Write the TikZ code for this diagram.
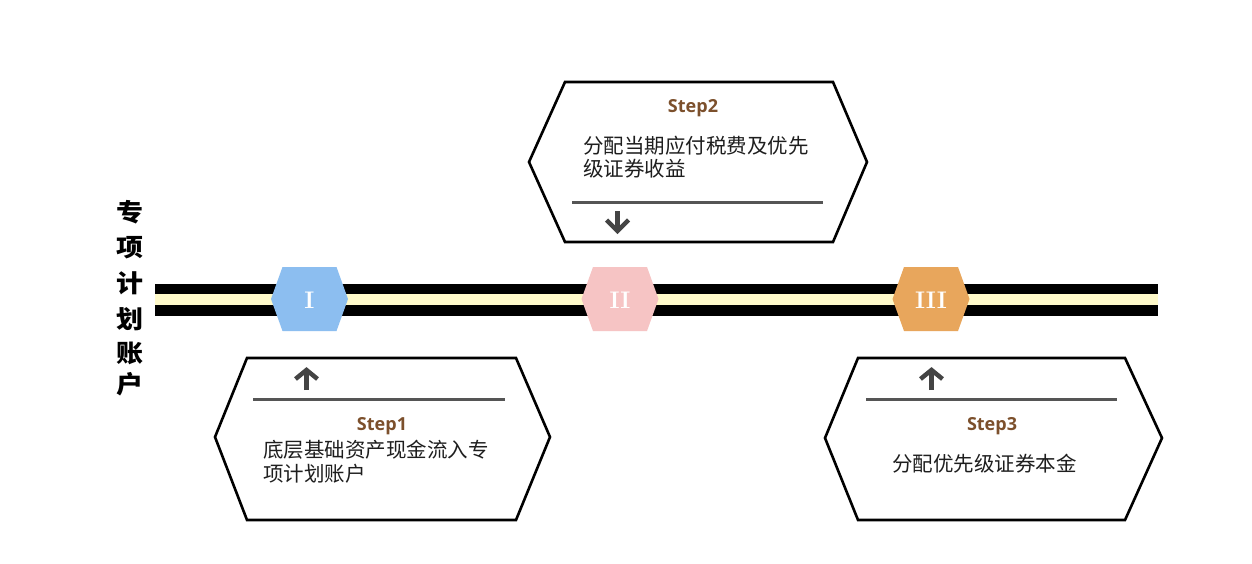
\documentclass[tikz,border=0pt]{standalone}
\usepackage{fontspec}
\usetikzlibrary{calc}
\newfontfamily\cjk{Noto Sans CJK SC}
\newfontfamily\stepfont{Open Sans}
\definecolor{hexI}{RGB}{140,190,240}
\definecolor{hexII}{RGB}{246,196,196}
\definecolor{hexIII}{RGB}{232,166,92}
\definecolor{trackyellow}{RGB}{255,250,202}
\definecolor{stepbrown}{RGB}{124,80,44}
\definecolor{sepgray}{RGB}{85,85,85}
\definecolor{arrowgray}{RGB}{68,68,68}
\definecolor{txt}{RGB}{30,30,30}
\tikzset{
  bigbox/.style={draw=black, line width=2.6pt, line join=miter},
  seprule/.style={draw=sepgray, line width=3pt},
  arrowglyph/.style={draw=arrowgray, line width=4.5pt, line join=miter, line cap=butt},
  steplabel/.style={anchor=base, inner sep=0pt, text=stepbrown, font=\stepfont\bfseries\fontsize{18}{18}\selectfont},
  bodytext/.style={anchor=base west, inner sep=0pt, text=txt, font=\cjk\fontsize{20.5}{24}\selectfont},
  titlechar/.style={anchor=base, inner sep=0pt, text=black, xscale=1.1, font=\cjk\bfseries\fontsize{24.5}{24.5}\selectfont},
  numeral/.style={anchor=center, inner sep=0pt, text=white, font=\bfseries\fontsize{24}{24}\selectfont},
}
\begin{document}
\begin{tikzpicture}[x=1pt,y=-1pt]
\useasboundingbox (0,0) rectangle (1252,563);
\fill[white] (0,0) rectangle (1252,563);

% vertical title
\foreach \ch/\yy/\nm in {专/212/t1, 项/247/t2, 计/283/t3, 划/319/t4, 账/353/t5, 户/384/t6}{
  \node[titlechar] (\nm) at (130,\yy+9.2) {\ch};
}

% track
\fill[black] (155,284) rectangle (1158,316);
\fill[trackyellow] (155,293.5) rectangle (1158,305);

% hexagons on the track
\foreach \cx/\col/\lab/\nm in {309.5/hexI/I/h1, 620/hexII/II/h2, 931/hexIII/III/h3}{
  \fill[\col] (\cx-38.5,299) -- (\cx-27,267) -- (\cx+27,267) -- (\cx+38.5,299) -- (\cx+27,331) -- (\cx-27,331) -- cycle;
  \node[numeral] (\nm) at (\cx,300) {\lab};
}

% Step2 box
\draw[bigbox] (529,162) -- (565,82) -- (833,82) -- (867,162) -- (833,242) -- (565,242) -- cycle;
\node[steplabel] (s2) at (693,112) {Step2};
\node[bodytext] (s2a) at (583,153) {分配当期应付税费及优先};
\node[bodytext] (s2b) at (583,176.5) {级证券收益};
\draw[seprule] (572,202) -- (823,202);
\coordinate (d2top) at (617.5,211);
\coordinate (d2tip) at (617.5,231);
\draw[arrowglyph] (d2top) -- ($(d2tip)+(0,-3)$);
\draw[arrowglyph] (606.5,220) -- (d2tip) -- (628.5,220);

% Step1 box
\draw[bigbox] (215,437) -- (247,358) -- (516,358) -- (550,437) -- (516,520) -- (247,520) -- cycle;
\draw[seprule] (253,399) -- (505,399);
\node[steplabel] (s1) at (382,430) {Step1};
\node[bodytext] (s1a) at (263,457.5) {底层基础资产现金流入专};
\node[bodytext] (s1b) at (263,481.5) {项计划账户};

% Step3 box
\draw[bigbox] (825,438) -- (858,358) -- (1125,358) -- (1162,438) -- (1125,520) -- (858,520) -- cycle;
\draw[seprule] (866,399) -- (1117,399);
\node[steplabel] (s3) at (992,430.5) {Step3};
\node[bodytext] (s3a) at (892,471.5) {分配优先级证券本金};

% up arrows
\foreach \ax/\nm in {306.5/u1, 931.5/u3}{
  \coordinate (\nm tip) at (\ax,370);
  \coordinate (\nm bot) at (\ax,390);
  \draw[arrowglyph] (\nm bot) -- ($(\nm tip)+(0,3)$);
  \draw[arrowglyph] (\ax-11,379) -- (\nm tip) -- (\ax+11,379);
}
\end{tikzpicture}
\end{document}
